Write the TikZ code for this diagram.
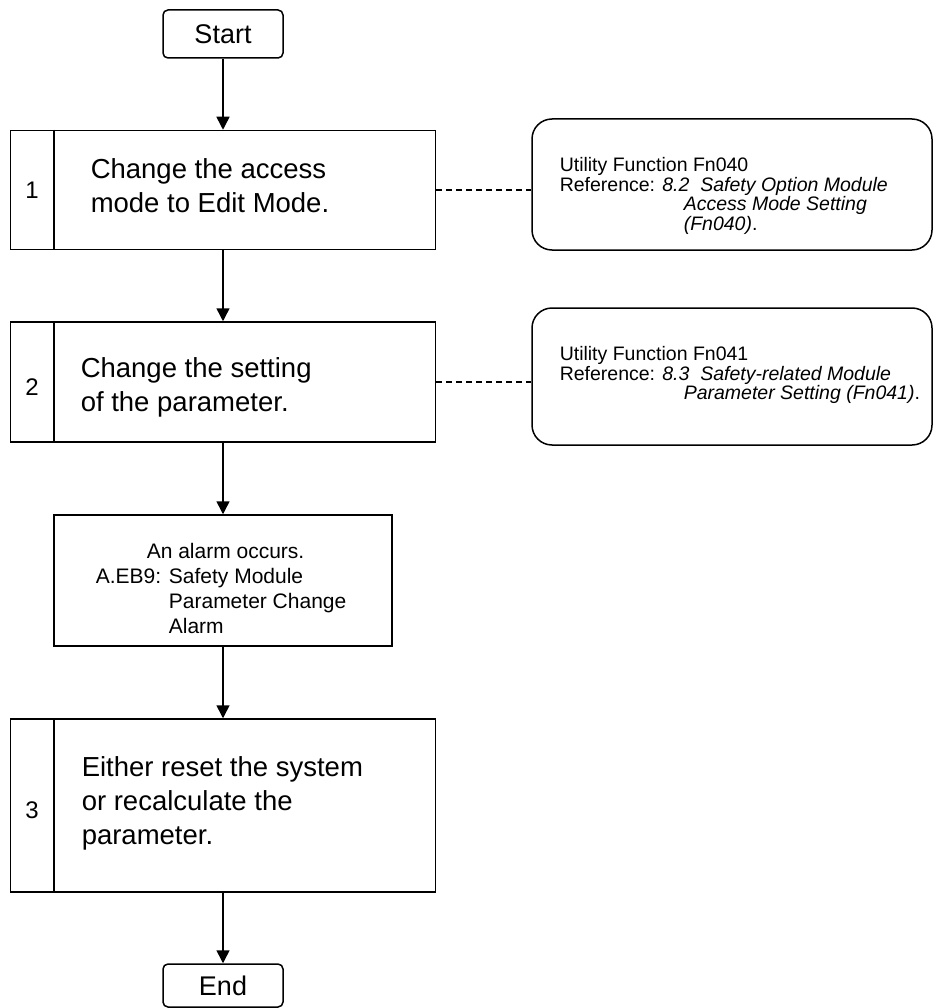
\documentclass[tikz,border=0pt]{standalone}
\usepackage{fontspec}
\setmainfont{Liberation Sans}
\usetikzlibrary{arrows.meta}

\begin{document}
\begin{tikzpicture}[x=1pt, y=-1pt, line width=1.5pt,
      every node/.style={inner sep=0pt},
      term/.style={draw, rounded corners=5pt, minimum width=120pt,
        font=\fontsize{27}{30}\selectfont},
      stepbox/.style={draw, minimum width=425pt},
      stepno/.style={font=\fontsize{24}{28}\selectfont},
      steptext/.style={align=left, anchor=north west,
        font=\fontsize{27.5}{34}\selectfont},
      alarmtext/.style={align=left, anchor=north west,
        font=\fontsize{21}{25}\selectfont},
      note/.style={draw, rounded corners=20pt, minimum width=400pt},
      notetext/.style={align=left, anchor=north west,
        font=\fontsize{19.5}{19.5}\selectfont},
      flow/.style={-{Triangle[width=13pt,length=13pt]}},
      link/.style={dash pattern=on 6pt off 4pt}]
    \useasboundingbox (0,0) rectangle (933,1008);
    \node[term, minimum height=48pt] (start) at (223,34) {Start};
    \node[stepbox, minimum height=119pt] (s1) at (223,190) {};
    \node[stepno] (n1) at (32,190) {1};
    \node[steptext] (t1) at (90,158) {Change the access\\mode to Edit Mode.};
    \node[note, minimum height=131pt] (f1) at (732,184.5) {};
    \node[notetext] (r1) at (559,157) {Utility Function Fn040\\
      Reference: \textit{8.2\ \ Safety Option Module}\\
      \hspace*{124pt}\textit{Access Mode Setting}\\
      \hspace*{124pt}\textit{(Fn040)}.};
    \node[stepbox, minimum height=120pt] (s2) at (223,382) {};
    \node[stepno] (n2) at (32,387) {2};
    \node[steptext] (t2) at (80,357) {Change the setting\\of the parameter.};
    \node[note, minimum height=137pt] (f2) at (732,376.5) {};
    \node[notetext] (r2) at (559,346) {Utility Function Fn041\\
      Reference: \textit{8.3\ \ Safety-related Module}\\
      \hspace*{124pt}\textit{Parameter Setting (Fn041)}.};
    \node[draw, minimum width=338pt, minimum height=131pt] (alarm) at (223,580.5) {};
    \node[alarmtext] (t4) at (95,543) {\hspace*{51pt}An alarm occurs.\\
      A.EB9: Safety Module\\
      \phantom{A.EB9: }Parameter Change\\
      \phantom{A.EB9: }Alarm};
    \node[stepbox, minimum height=173pt] (s3) at (223,805.5) {};
    \node[stepno] (n3) at (32,810) {3};
    \node[steptext] (t3) at (81,756) {Either reset the system\\or recalculate the\\parameter.};
    \node[term, minimum height=43pt] (end) at (223,985.5) {End};
    \draw ([xshift=44pt]s1.north west) -- ([xshift=44pt]s1.south west);
    \draw ([xshift=44pt]s2.north west) -- ([xshift=44pt]s2.south west);
    \draw ([xshift=44pt]s3.north west) -- ([xshift=44pt]s3.south west);
    \draw[flow] (start) -- (s1);
    \draw[flow] (s1) -- (s2);
    \draw[flow] (s2) -- (alarm);
    \draw[flow] (alarm) -- (s3);
    \draw[flow] (s3) -- (end);
    \draw[link] (s1.east) -- (s1.east -| f1.west);
    \draw[link] (s2.east) -- (s2.east -| f2.west);
  \end{tikzpicture}
\end{document}
